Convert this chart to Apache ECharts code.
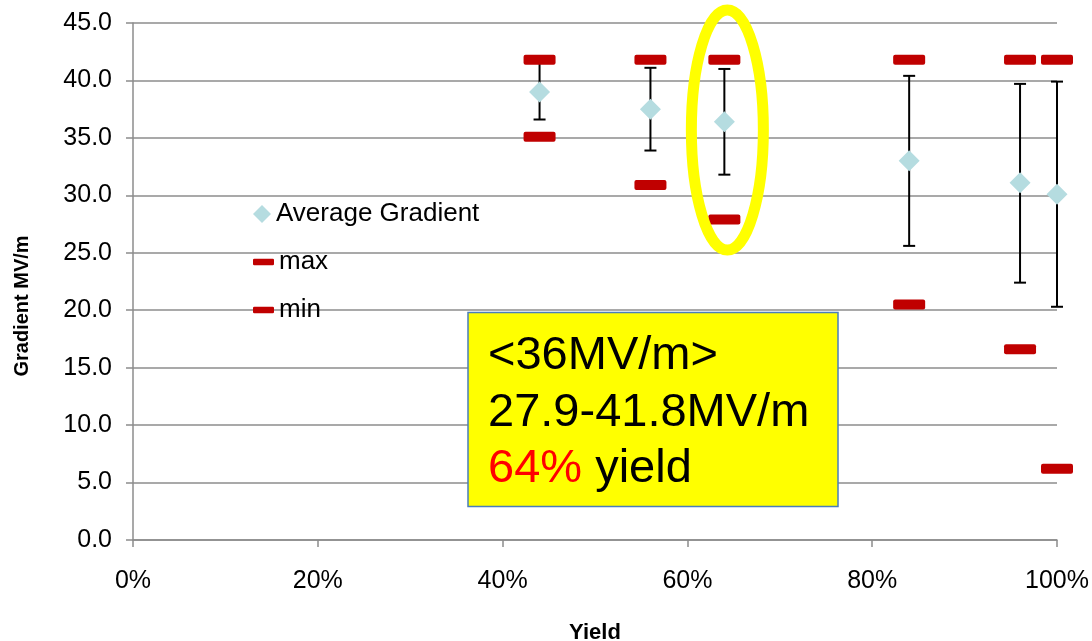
<!DOCTYPE html>
<html>
<head>
<meta charset="utf-8">
<script src="https://cdn.jsdelivr.net/npm/echarts@6/dist/echarts.min.js"></script>
<style>
  html, body { margin: 0; padding: 0; background: #fff; }
  #chart { width: 1092px; height: 641px; }
</style>
</head>
<body>
<div id="chart"></div>
<script>
// Cavity yield vs. accelerating gradient
const yieldPct    = [0.44, 0.56, 0.64, 0.84, 0.96, 1.00];
const avgGradient = [39.0, 37.5, 36.4, 33.0, 31.1, 30.1];
const maxGradient = [41.8, 41.8, 41.8, 41.8, 41.8, 41.8];
const minGradient = [35.1, 30.9, 27.9, 20.5, 16.6, 6.2];
const spreadLow   = [36.6, 33.9, 31.8, 25.6, 22.4, 20.3];
const spreadHigh  = [41.7, 41.1, 41.0, 40.4, 39.7, 39.9];

const xTicks = { min: 0, max: 1, interval: 0.2 };
const yTicks = { min: 0, max: 45, interval: 5 };

const FONT = '"Liberation Sans", Arial, Helvetica, sans-serif';
const GRID_GREY = '#8c8c8c';
const RED = '#c00000';
const TEAL = '#b5dce0';
// bar-shaped marker with slightly rounded corners
const BAR_SYMBOL = 'path://M2,0 H30 Q32,0 32,2 V8 Q32,10 30,10 H2 Q0,10 0,8 V2 Q0,0 2,0 Z';

const pairs = (ys) => yieldPct.map((x, i) => [x, ys[i]]);
const errData = yieldPct.map((x, i) => [x, spreadLow[i], spreadHigh[i]]);

const chart = echarts.init(document.getElementById('chart'), null, { renderer: 'canvas' });

function renderErrorBar(params, api) {
  const x = api.value(0);
  const lo = api.coord([x, api.value(1)]);
  const hi = api.coord([x, api.value(2)]);
  const cap = 6;
  const style = { stroke: '#000', lineWidth: 2 };
  return {
    type: 'group',
    children: [
      { type: 'line', shape: { x1: lo[0], y1: lo[1], x2: hi[0], y2: hi[1] }, style },
      { type: 'line', shape: { x1: lo[0] - cap, y1: lo[1], x2: lo[0] + cap, y2: lo[1] }, style },
      { type: 'line', shape: { x1: hi[0] - cap, y1: hi[1], x2: hi[0] + cap, y2: hi[1] }, style }
    ]
  };
}

const legendText = { fontFamily: FONT, fontSize: 26, color: '#000' };

const option = {
  backgroundColor: '#fff',
  animation: false,
  grid: { left: 133, right: 35, top: 23, bottom: 101, containLabel: false, outerBoundsMode: 'none' },
  legend: [
    { data: ['Average Gradient'], left: 253, top: 201, padding: 0, itemWidth: 18, itemHeight: 18,
      itemGap: 0, icon: 'diamond', textStyle: legendText, selectedMode: false },
    { data: ['max'], left: 253, top: 249, padding: 0, itemWidth: 21, itemHeight: 8,
      icon: BAR_SYMBOL, textStyle: legendText, selectedMode: false },
    { data: ['min'], left: 253, top: 297, padding: 0, itemWidth: 21, itemHeight: 8,
      icon: BAR_SYMBOL, textStyle: legendText, selectedMode: false }
  ],
  xAxis: {
    type: 'value',
    min: xTicks.min, max: xTicks.max, interval: xTicks.interval,
    name: 'Yield',
    nameLocation: 'middle',
    nameGap: 82,
    nameTextStyle: { fontFamily: FONT, fontSize: 22, fontWeight: 'bold', color: '#000' },
    axisLine: { show: true, lineStyle: { color: GRID_GREY, width: 1.5 } },
    axisTick: { show: true, inside: false, length: 7, lineStyle: { color: GRID_GREY, width: 1.5 } },
    axisLabel: {
      margin: 29, fontFamily: FONT, fontSize: 25, color: '#000',
      formatter: (v) => Math.round(v * 100) + '%'
    },
    splitLine: { show: false }
  },
  yAxis: {
    type: 'value',
    min: yTicks.min, max: yTicks.max, interval: yTicks.interval,
    axisLine: { show: true, lineStyle: { color: GRID_GREY, width: 1.5 } },
    axisTick: { show: true, inside: false, length: 7, lineStyle: { color: GRID_GREY, width: 1.5 } },
    axisLabel: {
      margin: 21, fontFamily: FONT, fontSize: 25, color: '#000',
      formatter: (v) => v.toFixed(1)
    },
    splitLine: { show: true, lineStyle: { color: GRID_GREY, width: 1.5 } }
  },
  series: [
    {
      name: 'spread',
      type: 'custom',
      renderItem: renderErrorBar,
      data: errData,
      encode: { x: 0, y: [1, 2] },
      z: 2,
      silent: true
    },
    {
      name: 'Average Gradient',
      type: 'scatter',
      symbol: 'diamond',
      symbolSize: [21, 21],
      itemStyle: { color: TEAL, opacity: 1 },
      data: pairs(avgGradient),
      z: 3
    },
    {
      name: 'max',
      type: 'scatter',
      symbol: BAR_SYMBOL,
      symbolSize: [32, 10],
      itemStyle: { color: RED, opacity: 1 },
      data: pairs(maxGradient),
      z: 4
    },
    {
      name: 'min',
      type: 'scatter',
      symbol: BAR_SYMBOL,
      symbolSize: [32, 10],
      itemStyle: { color: RED, opacity: 1 },
      data: pairs(minGradient),
      z: 4
    }
  ]
};

chart.setOption(option);

// Highlight the 64 % yield column and its summary box
const hiIdx = yieldPct.indexOf(0.64);
const colX = chart.convertToPixel({ gridIndex: 0 }, [yieldPct[hiIdx], 0])[0];

chart.setOption({
  graphic: [
    {
      type: 'text',
      x: 22, y: 306,
      rotation: Math.PI / 2,
      style: {
        text: 'Gradient MV/m',
        font: 'bold 20px ' + FONT,
        fill: '#000',
        align: 'center',
        verticalAlign: 'middle'
      },
      z: 10
    },
    {
      type: 'ellipse',
      shape: { cx: colX + 3, cy: 130, rx: 36, ry: 120 },
      style: { fill: 'none', stroke: '#ffff00', lineWidth: 11 },
      z: 20
    },
    {
      type: 'group',
      z: 30,
      children: [
        {
          type: 'rect',
          shape: { x: 468, y: 312.5, width: 370, height: 194 },
          style: { fill: '#ffff00', stroke: '#4a7ebb', lineWidth: 1.5 }
        },
        {
          type: 'text', x: 488, y: 356,
          style: { text: '<36MV/m>', font: '47px ' + FONT, fill: '#000', verticalAlign: 'middle' }
        },
        {
          type: 'text', x: 488, y: 413,
          style: { text: '27.9-41.8MV/m', font: '47px ' + FONT, fill: '#000', verticalAlign: 'middle' }
        },
        {
          type: 'text', x: 488, y: 469,
          style: {
            text: '{r|64%}{k| yield}',
            verticalAlign: 'middle',
            rich: {
              r: { fontFamily: FONT, fontSize: 47, fill: '#ff0000', color: '#ff0000' },
              k: { fontFamily: FONT, fontSize: 47, fill: '#000', color: '#000' }
            }
          }
        }
      ]
    }
  ]
});
</script>
</body>
</html>
